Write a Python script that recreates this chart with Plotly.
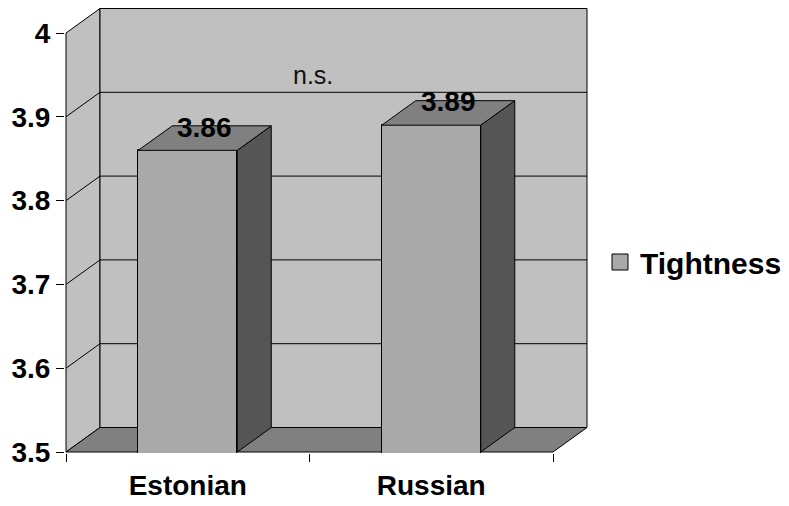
import plotly.graph_objects as go

# ---- data ----
categories = ["Estonian", "Russian"]
tightness = [3.86, 3.89]
series_name = "Tightness"
y_tick_vals = [3.5, 3.6, 3.7, 3.8, 3.9, 4.0]
y_tick_text = ["3.5", "3.6", "3.7", "3.8", "3.9", "4"]
note_text = "n.s."

# ---- geometry (pixel-based layout constants; page body adds an 8px offset) ----
BODY = 8
W, H = 789 - BODY, 506 - BODY
y_min, y_max = 3.5, 4.0
front_left_px, front_right_px = 66 - BODY, 553 - BODY
front_bottom_px, front_top_px = 452 - BODY, 33 - BODY
depth_dx_px, depth_dy_px = 34, 24.5
upx = (len(categories)) / (front_right_px - front_left_px)       # x units per pixel
upy = (y_max - y_min) / (front_bottom_px - front_top_px)         # y units per pixel
dxu = depth_dx_px * upx
dyu = depth_dy_px * upy
x_lo, x_hi = -0.5, len(categories) - 0.5

pad_l, pad_r, pad_t, pad_b = 1, 2, 0.5, 1
xr = [x_lo - pad_l * upx, x_hi + dxu + pad_r * upx]
yr = [y_min - pad_b * upy, y_max + dyu + pad_t * upy]
plot_left = front_left_px - pad_l
plot_right = front_right_px + depth_dx_px + pad_r
plot_bottom = front_bottom_px + pad_b
plot_top = max(0, front_top_px - depth_dy_px - pad_t)

bar_w = 99 * upx

WALL = "#C0C0C0"
FLOOR = "#808080"
BAR_FRONT = "#A9A9A9"
BAR_TOP = "#808080"
BAR_SIDE = "#555555"
FONT = "Arial, Liberation Sans, sans-serif"

fig = go.Figure()

shapes = []
def poly(pts, fill, width=1):
    path = "M " + " L ".join(f"{x},{y}" for x, y in pts) + " Z"
    return dict(type="path", path=path, xref="x", yref="y", fillcolor=fill,
                line=dict(color="black", width=width), layer="below")

# left wall
shapes.append(poly([(x_lo, y_min), (x_lo + dxu, y_min + dyu), (x_lo + dxu, y_max + dyu), (x_lo, y_max)], WALL))
# back wall
shapes.append(poly([(x_lo + dxu, y_min + dyu), (x_hi + dxu, y_min + dyu), (x_hi + dxu, y_max + dyu), (x_lo + dxu, y_max + dyu)], WALL))
# floor
shapes.append(poly([(x_lo, y_min), (x_hi, y_min), (x_hi + dxu, y_min + dyu), (x_lo + dxu, y_min + dyu)], FLOOR))
# gridlines on left + back walls
for v in y_tick_vals[1:-1]:
    shapes.append(dict(type="path", xref="x", yref="y", layer="below",
                       path=f"M {x_lo},{v} L {x_lo + dxu},{v + dyu} L {x_hi + dxu},{v + dyu}",
                       line=dict(color="black", width=1)))

# bar front faces
xs = list(range(len(categories)))
fig.add_trace(go.Bar(x=xs, y=tightness, width=bar_w, name=series_name,
                     marker=dict(color=BAR_FRONT, line=dict(color="black", width=1)),
                     showlegend=False, hoverinfo="skip"))

# bar top and side faces
for xc, v in zip(xs, tightness):
    l, r = xc - bar_w / 2, xc + bar_w / 2
    side = [(r, y_min), (r, v), (r + dxu, v + dyu), (r + dxu, y_min + dyu), (r, y_min)]
    top = [(l, v), (r, v), (r + dxu, v + dyu), (l + dxu, v + dyu), (l, v)]
    for pts, col in ((side, BAR_SIDE), (top, BAR_TOP)):
        fig.add_trace(go.Scatter(x=[p[0] for p in pts], y=[p[1] for p in pts],
                                 mode="lines", fill="toself", fillcolor=col,
                                 line=dict(color="black", width=1),
                                 showlegend=False, hoverinfo="skip"))

# legend entry
fig.add_trace(go.Scatter(x=[None], y=[None], mode="markers", name=series_name,
                         marker=dict(symbol="square", size=16, color=BAR_FRONT,
                                     line=dict(color="black", width=1))))

annotations = []
for xc, v in zip(xs, tightness):
    annotations.append(dict(x=xc + dxu / 2, y=v + dyu / 2, xref="x", yref="y",
                            text=f"{v:.2f}", showarrow=False, yshift=11,
                            font=dict(family=FONT, size=28, color="black", weight="bold")))
annotations.append(dict(x=0.5, y=3.95, xref="x", yref="y", text=note_text,
                        showarrow=False, xshift=3,
                        font=dict(family=FONT, size=25, color="#111111")))

fig.update_layout(
    width=W, height=H,
    margin=dict(l=plot_left, r=W - plot_right, t=plot_top, b=H - plot_bottom, pad=0, autoexpand=False),
    paper_bgcolor="white", plot_bgcolor="white",
    shapes=shapes, annotations=annotations,
    bargap=0,
    xaxis=dict(range=xr, tickvals=xs, ticktext=categories, ticks="",
               ticklabelstandoff=13,
               showgrid=False, zeroline=False, showline=False,
               tickfont=dict(family=FONT, size=28, color="black", weight="bold"),
               minor=dict(tickvals=[x_lo, 0.5, x_hi], ticks="outside", ticklen=8,
                          tickcolor="black", tickwidth=1, showgrid=False),
               fixedrange=True),
    yaxis=dict(range=yr, tickvals=y_tick_vals, ticktext=y_tick_text,
               ticks="outside", ticklen=8, tickcolor="black", tickwidth=1,
               showgrid=False, zeroline=False, showline=False,
               tickfont=dict(family=FONT, size=28, color="black", weight="bold"),
               fixedrange=True),
    legend=dict(x=(600 - BODY - plot_left) / (plot_right - plot_left),
                y=(plot_bottom - (262 - BODY)) / (plot_bottom - plot_top),
                xanchor="left", yanchor="middle", bgcolor="rgba(0,0,0,0)",
                font=dict(family=FONT, size=30, color="black", weight="bold")),
    showlegend=True,
)

fig.write_html("out.html")
